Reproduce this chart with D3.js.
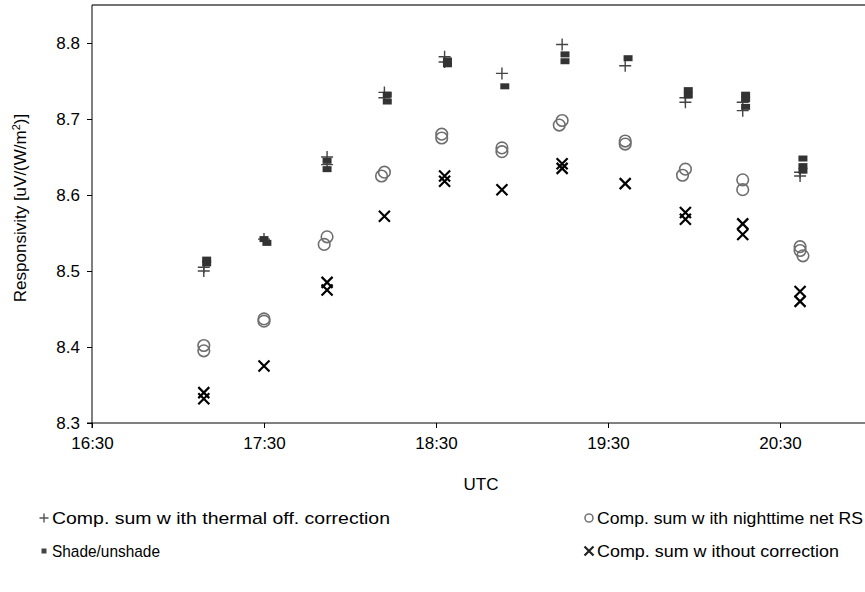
<!DOCTYPE html>
<html>
<head>
<meta charset="utf-8">
<script src="https://cdn.jsdelivr.net/npm/d3@7"></script>
<style>
  body { margin: 0; background: #fff; }
  svg { font-family: "Liberation Sans", Arial, sans-serif; }
  .axis text { font-size: 17px; fill: #000; }
  .axis path, .axis line { stroke: #000; }
</style>
</head>
<body>
<svg width="865" height="592"></svg>
<script>
var xTicks = ["16:30", "17:30", "18:30", "19:30", "20:30"];
var yTicks = [8.3, 8.4, 8.5, 8.6, 8.7, 8.8];

// Comp. sum with thermal off. correction
var thermalTimes = ["17:09", "17:09", "17:30", "17:52", "17:52", "18:12", "18:12", "18:33", "18:33", "18:53", "19:14", "19:36", "19:57", "19:57", "20:17", "20:17", "20:37", "20:37"];
var thermalValues = [8.505, 8.500, 8.542, 8.650, 8.640, 8.735, 8.728, 8.782, 8.775, 8.760, 8.798, 8.770, 8.728, 8.722, 8.711, 8.722, 8.630, 8.625];

// Shade/unshade
var shadeTimes = ["17:10", "17:10", "17:30", "17:31", "17:52", "17:52", "18:13", "18:13", "18:34", "18:34", "18:54", "19:15", "19:15", "19:37", "19:58", "19:58", "20:18", "20:18", "20:18", "20:38", "20:38", "20:38"];
var shadeValues = [8.515, 8.510, 8.542, 8.537, 8.645, 8.634, 8.732, 8.723, 8.777, 8.772, 8.743, 8.785, 8.776, 8.780, 8.738, 8.731, 8.732, 8.726, 8.716, 8.648, 8.638, 8.632];

// Comp. sum with nighttime net RS
var nightTimes = ["17:09", "17:09", "17:30", "17:30", "17:52", "17:51", "18:12", "18:11", "18:32", "18:32", "18:53", "18:53", "19:14", "19:13", "19:36", "19:36", "19:57", "19:56", "20:17", "20:17", "20:37", "20:37", "20:38"];
var nightValues = [8.402, 8.395, 8.437, 8.434, 8.545, 8.535, 8.630, 8.625, 8.680, 8.675, 8.662, 8.657, 8.698, 8.692, 8.671, 8.667, 8.634, 8.626, 8.620, 8.607, 8.532, 8.527, 8.520];

// Comp. sum without correction
var noCorrTimes = ["17:09", "17:09", "17:30", "17:52", "17:52", "18:12", "18:33", "18:33", "18:53", "19:14", "19:14", "19:36", "19:57", "19:57", "20:17", "20:17", "20:37", "20:37"];
var noCorrValues = [8.340, 8.332, 8.375, 8.485, 8.475, 8.572, 8.618, 8.625, 8.607, 8.641, 8.635, 8.615, 8.577, 8.568, 8.562, 8.548, 8.473, 8.460];

var svg = d3.select("svg");
var parseTime = d3.timeParse("%H:%M");

var plotLeft = 92, plotTop = 5, plotBottom = 423, plotRight = 866;

var x = d3.scaleTime()
    .domain([parseTime("16:30"), parseTime("21:00")])
    .range([plotLeft, plotRight]);

var y = d3.scaleLinear()
    .domain([8.3, 8.85])
    .range([plotBottom, plotTop]);

function points(times, values) {
    return times.map(function (t, i) {
        return {t: parseTime(t), v: values[i]};
    });
}

// frame: top line (no right border visible)
svg.append("line")
    .attr("x1", plotLeft).attr("x2", plotRight)
    .attr("y1", plotTop).attr("y2", plotTop)
    .attr("stroke", "#444").attr("stroke-width", 1.5);

svg.append("g")
    .attr("class", "axis")
    .attr("transform", "translate(" + plotLeft + ",0)")
    .call(d3.axisLeft(y).tickValues(yTicks).tickSize(5).tickPadding(7)
        .tickFormat(d3.format(".1f")))
    .call(function (g) { g.select(".domain").attr("d", "M-5," + plotBottom + "H0V" + plotTop); });

svg.append("g")
    .attr("class", "axis")
    .attr("transform", "translate(0," + plotBottom + ")")
    .call(d3.axisBottom(x).tickValues(xTicks.map(parseTime)).tickSize(5).tickPadding(9)
        .tickFormat(d3.timeFormat("%H:%M")))
    .call(function (g) { g.select(".domain").attr("d", "M" + plotLeft + ",5V0H" + plotRight); });

// axis titles
svg.append("text")
    .attr("transform", "translate(26," + ((plotTop + plotBottom) / 2 - 6) + ") rotate(-90)")
    .attr("text-anchor", "middle")
    .attr("font-size", 17)
    .html('Responsivity [uV/(W/m<tspan dy="-6" font-size="11">2</tspan><tspan dy="6">)]</tspan>');

svg.append("text")
    .attr("x", (plotLeft + plotRight) / 2 + 2)
    .attr("y", 490)
    .attr("text-anchor", "middle")
    .attr("font-size", 17)
    .text("UTC");

// marker drawers
function drawPlus(g, cx, cy, s, color) {
    g.append("path")
        .attr("d", "M" + (cx - s) + "," + cy + "H" + (cx + s) + "M" + cx + "," + (cy - s) + "V" + (cy + s))
        .attr("stroke", color).attr("stroke-width", 1.4).attr("fill", "none");
}
function drawShade(g, cx, cy, w, h, color) {
    g.append("rect")
        .attr("x", cx - w / 2).attr("y", cy - h / 2)
        .attr("width", w).attr("height", h)
        .attr("fill", color);
}
function drawCircle(g, cx, cy, r, color) {
    g.append("circle")
        .attr("cx", cx).attr("cy", cy).attr("r", r)
        .attr("fill", "none").attr("stroke", color).attr("stroke-width", 1.6);
}
function drawCross(g, cx, cy, s, color) {
    g.append("path")
        .attr("d", "M" + (cx - s) + "," + (cy - s) + "L" + (cx + s) + "," + (cy + s) +
            "M" + (cx - s) + "," + (cy + s) + "L" + (cx + s) + "," + (cy - s))
        .attr("stroke", color).attr("stroke-width", 2.2).attr("fill", "none");
}

var marks = svg.append("g").attr("class", "marks");

points(nightTimes, nightValues).forEach(function (d) {
    drawCircle(marks, x(d.t), y(d.v), 5.8, "#6e6e6e");
});
points(noCorrTimes, noCorrValues).forEach(function (d) {
    drawCross(marks, x(d.t), y(d.v), 5.5, "#000");
});
points(thermalTimes, thermalValues).forEach(function (d) {
    drawPlus(marks, x(d.t), y(d.v), 6, "#444");
});
points(shadeTimes, shadeValues).forEach(function (d) {
    drawShade(marks, x(d.t), y(d.v), 9, 6, "#333");
});

// legend
var legend = svg.append("g");
var legendItems = [
    {label: "Comp. sum w ith thermal off. correction", kind: "plus", lx: 40, ly: 518, w: 338},
    {label: "Comp. sum w ith nighttime net RS", kind: "circle", lx: 585, ly: 518, w: 266},
    {label: "Shade/unshade", kind: "shade", lx: 40, ly: 551, w: 108},
    {label: "Comp. sum w ithout correction", kind: "cross", lx: 585, ly: 551, w: 242}
];
legendItems.forEach(function (d) {
    if (d.kind === "plus") drawPlus(legend, d.lx + 4, d.ly, 4.5, "#555");
    if (d.kind === "circle") drawCircle(legend, d.lx + 4, d.ly, 4, "#777");
    if (d.kind === "shade") drawShade(legend, d.lx + 4, d.ly, 5, 5, "#444");
    if (d.kind === "cross") drawCross(legend, d.lx + 4, d.ly, 4.5, "#222");
    legend.append("text")
        .attr("x", d.lx + 12)
        .attr("y", d.ly + 6)
        .attr("font-size", 17)
        .attr("textLength", d.w)
        .attr("lengthAdjust", "spacingAndGlyphs")
        .text(d.label);
});
</script>
</body>
</html>
